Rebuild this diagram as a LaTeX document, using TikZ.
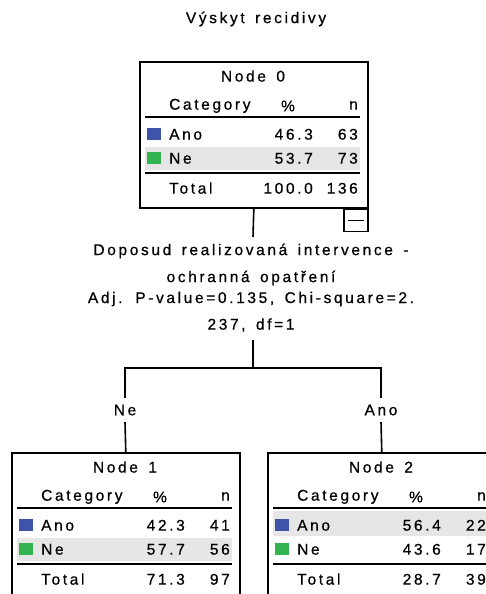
\documentclass[tikz,border=0pt]{standalone}
\usepackage{fontspec}
\setmainfont{Liberation Sans}[LetterSpace=17,FakeBold=0.6,WordSpace=1.5]
\definecolor{anoblue}{RGB}{62,84,170}
\definecolor{negreen}{RGB}{50,180,80}
\definecolor{rowgray}{RGB}{230,230,230}
\def\cbh{160pt}
\tikzset{
  nodebox/.style={draw=black, line width=1.6pt, minimum width=228pt, minimum height=\cbh, inner sep=0pt, anchor=north west},
  txt/.style={inner sep=0pt, font=\fontsize{15.5}{18}\selectfont, text=black},
  rule/.style={draw=black, line width=2pt},
  conn/.style={draw=black, line width=1.6pt},
  lbl/.style={txt, minimum height=24pt},
  shade/.style={fill=rowgray},
}
\newcommand\cattable[9]{%
\begin{scope}[shift={#2}]
  \node[nodebox] (#1) at (0,0) {};
  \node[txt] (#1-title) at (114,15) {#3};
  \node[txt, anchor=mid west] (#1-cat) at (30,46) {Category};
  \node[txt] (#1-pc) at (149,45) {\%};
  \node[txt, anchor=mid east] (#1-nh) at (219,46) {n};
  \draw[rule] (6,56) -- (221,56);
  \fill[anoblue] (8,67) rectangle (22,79);
  \node[txt, anchor=mid west] (#1-a) at (30,76) {Ano};
  \node[txt, anchor=mid east] (#1-ap) at (174,76) {#4};
  \node[txt, anchor=mid east] (#1-an) at (219,76) {#5};
  \fill[negreen] (8,91) rectangle (22,103);
  \node[txt, anchor=mid west] (#1-ne) at (30,100) {Ne};
  \node[txt, anchor=mid east] (#1-np) at (174,100) {#6};
  \node[txt, anchor=mid east] (#1-nn) at (219,100) {#7};
  \draw[rule] (6,112) -- (221,112);
  \node[txt, anchor=mid west] (#1-t) at (30,130) {Total};
  \node[txt, anchor=mid east] (#1-tp) at (174,130) {#8};
  \node[txt, anchor=mid east] (#1-tn) at (219,130) {#9};
\end{scope}}
\begin{document}
\begin{tikzpicture}[x=1pt,y=-1pt]
\useasboundingbox (0,0) rectangle (486,594);
\clip (0,0) rectangle (486,594);
% row shading
\fill[shade] (145,147) rectangle (360,170);
\fill[shade] (17,538) rectangle (232,561);
\fill[shade] (273,511) rectangle (488,536);
% title
\node[txt] (title) at (256,19) {Výskyt recidivy};
% node 0
\def\cbh{146pt}
\cattable{n0}{(139,61)}{Node 0}{46.3}{63}{53.7}{73}{100.0}{136}
\node[draw=black, line width=1.3pt, minimum width=24pt, minimum height=22pt, inner sep=0pt, anchor=north east] (m0) at (n0.south east) {};
\draw[line width=1.3pt] ([xshift=-8pt]m0.center) -- ([xshift=8pt]m0.center);
% split description
\node[txt] (sp1) at (251,251) {Doposud realizovaná intervence -};
\node[txt] (sp2) at (251,278) {ochranná opatření};
\node[txt] (sp3) at (251,299) {Adj. P-value=0.135, Chi-square=2.};
\node[txt] (sp4) at (251,325) {237, df=1};
\coordinate (c0) at (253,237);
\coordinate (c1) at (253,340);
\coordinate (j) at (253,368);
\draw[conn] (n0.south) -- (c0);
\draw[conn] (c1) -- (j);
% branch labels
\node[lbl] (lNe) at (125,410) {Ne};
\node[lbl] (lAno) at (381,410) {Ano};
\draw[conn] (lNe.north) -- (lNe.north |- j) -- (lAno.north |- j) -- (lAno.north);
% child nodes
\def\cbh{160pt}
\cattable{n1}{(11,452)}{Node 1}{42.3}{41}{57.7}{56}{71.3}{97}
\cattable{n2}{(267,452)}{Node 2}{56.4}{22}{43.6}{17}{28.7}{39}
\draw[conn] (lNe.south) -- (n1.north);
\draw[conn] (lAno.south) -- (n2.north);
\end{tikzpicture}
\end{document}
